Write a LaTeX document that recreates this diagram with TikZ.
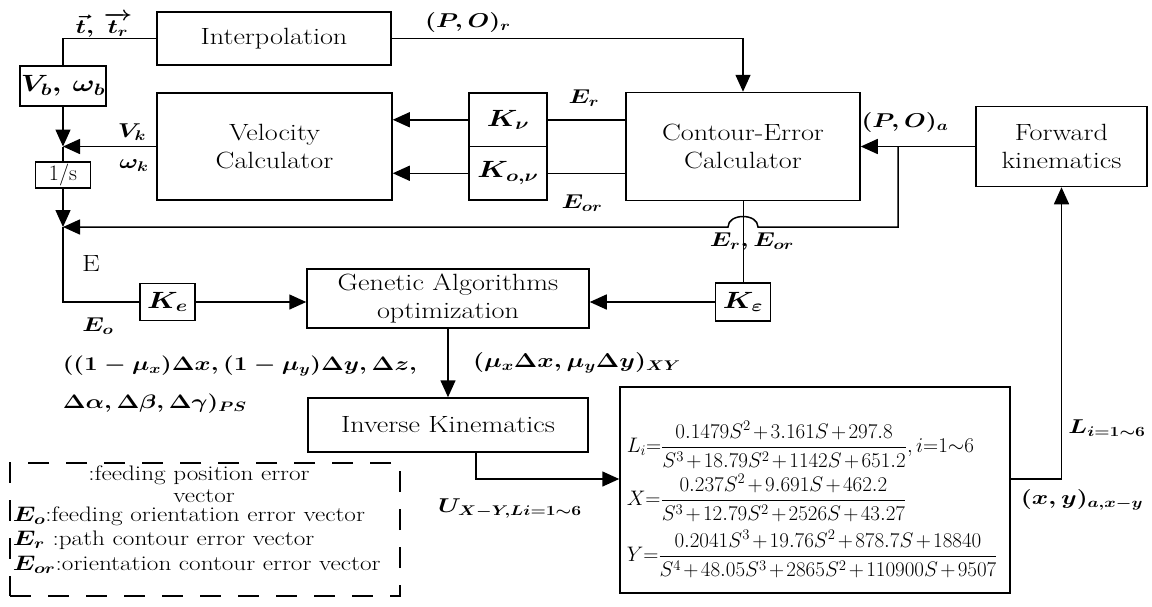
\RequirePackage{fix-cm}
\documentclass[tikz,border=0pt]{standalone}
\usepackage{fontspec}
\usepackage{amsmath}
\usepackage{bm}
\usetikzlibrary{arrows.meta}
\newcommand{\hstr}[1]{\scalebox{1.2}[1]{#1}}
\newcommand{\mlb}[1]{\scalebox{1.25}[1]{\boldmath$#1$}}
\begin{document}
\begin{tikzpicture}[x=1pt,y=-1pt,line width=1.5pt,
  box/.style={draw, inner sep=0pt, align=center, font=\fontsize{23.5}{28}\selectfont},
  lab/.style={inner sep=0pt, font=\fontsize{20}{24}\selectfont},
  legt/.style={inner sep=0pt, font=\fontsize{21}{25}\selectfont},
  eqf/.style={inner sep=0pt, anchor=west, font=\fontsize{21}{24}\selectfont},
  arr/.style={-{Triangle[length=17pt,width=15pt]}},
  thinline/.style={line width=1pt}]
\useasboundingbox (0,0) rectangle (1152,606);
% blocks
\node[box, minimum width=234pt, minimum height=53pt] (interp) at (274,38.5) {\hstr{Interpolation}};
\node[box, minimum width=86pt, minimum height=40pt] (vb) at (63,86) {\mlb{V_{b},\,\omega_{b}}};
\node[box, minimum width=235pt, minimum height=107pt] (vel) at (274.5,146.5) {\hstr{Velocity}\\\hstr{Calculator}};
\node[box, minimum width=78pt, minimum height=53.5pt] (kv) at (508,119.75) {\mlb{K_{\nu}}};
\node[box, minimum width=78pt, minimum height=53.5pt] (kov) at (508,173.25) {\mlb{K_{o,\nu}}};
\node[box, minimum width=234pt, minimum height=108pt] (ce) at (743,146.5) {\hstr{Contour-Error}\\\hstr{Calculator}};
\node[box, minimum width=171pt, minimum height=80pt] (fk) at (1061.5,146.5) {\hstr{Forward}\\\hstr{kinematics}};
\node[box, minimum width=55pt, minimum height=26pt, font=\fontsize{22}{24}\selectfont] (one) at (63,175) {1/s};
\node[box, minimum width=55pt, minimum height=37pt] (ke) at (167.5,302) {\mlb{K_{e}}};
\node[box, minimum width=55pt, minimum height=38pt] (keps) at (743,302) {\mlb{K_{\varepsilon}}};
\node[box, minimum width=282pt, minimum height=59pt] (ga) at (448,298.5) {\hstr{Genetic Algorithms}\\\hstr{optimization}};
\node[box, minimum width=280pt, minimum height=54pt] (ik) at (448,425) {\hstr{Inverse Kinematics}};
\node[box, minimum width=390pt, minimum height=206pt] (eq) at (815,490) {};
\node[draw, dash pattern=on 21pt off 17pt, minimum width=390pt, minimum height=133pt] (leg) at (205,529.5) {};
% equations
\node[eqf] (e1) at (626,445) {$\medmuskip=2mu L_i{=}\dfrac{0.1479S^2+3.161S+297.8}{S^3+18.79S^2+1142S+651.2},i{=}1{\sim}6$};
\node[eqf] (e2) at (626,498) {$\medmuskip=2mu X{=}\dfrac{0.237S^2+9.691S+462.2}{S^3+12.79S^2+2526S+43.27}$};
\node[eqf] (e3) at (626,554) {$\medmuskip=2mu Y{=}\dfrac{0.2041S^3+19.76S^2+878.7S+18840}{S^4+48.05S^3+2865S^2+110900S+9507}$};
% legend text
\node[legt] (g1) at (199,475) {\hstr{:feeding position error}};
\node[legt] (g2) at (204,496) {\hstr{vector}};
\node[legt, anchor=west] (g3) at (12,516) {\mlb{E_{o}}\hstr{:feeding orientation error vector}};
\node[legt, anchor=west] (g4) at (12,540) {\mlb{E_{r}}\hstr{ :path contour error vector}};
\node[legt, anchor=west] (g5) at (12,565) {\mlb{E_{or}}\hstr{:orientation contour error vector}};
% labels
\node[lab] (lt) at (104,25) {\mlb{\vec{t},\,\overrightarrow{t_{r}}}};
\node[lab] (lpor) at (468,22) {\mlb{(P,O)_{r}}};
\node[lab] (lvk) at (132,132) {\mlb{V_{k}}};
\node[lab] (lwk) at (134,166) {\mlb{\omega_{k}}};
\node[lab] (ler) at (584,98) {\mlb{E_{r}}};
\node[lab] (leor) at (582,203) {\mlb{E_{or}}};
\node[lab] (lpoa) at (905,122) {\mlb{(P,O)_{a}}};
\node[lab] (lre) at (752,242) {\mlb{E_{r},E_{or}}};
\node[box, draw=none] (lE) at (91,263) {\hstr{E}};
\node[lab] (leo) at (98,326) {\mlb{E_{o}}};
\node[lab, anchor=west, font=\fontsize{19.5}{24}\selectfont] (ld1) at (62,366) {\mlb{((1-\mu_{x})\Delta x,(1-\mu_{y})\Delta y,\Delta z,}};
\node[lab, anchor=west, font=\fontsize{19.5}{24}\selectfont] (ld2) at (62,404) {\mlb{\Delta\alpha,\Delta\beta,\Delta\gamma)_{PS}}};
\node[lab] (lmu) at (577,363) {\mlb{(\mu_{x}\Delta x,\mu_{y}\Delta y)_{XY}}};
\node[lab] (lu) at (510,508) {\mlb{U_{X-Y,Li=1\sim6}}};
\node[lab] (lli) at (1107,428) {\mlb{L_{i=1\sim6}}};
\node[lab] (lxy) at (1082,500) {\mlb{(x,y)_{a,x-y}}};
% junctions
\coordinate (j1) at (63,146.5);
\coordinate (j2) at (63,227);
\coordinate (jk) at (63,302);
\coordinate (jb) at (898,146.5);
\coordinate (fbr) at (898,227);
\coordinate (hr) at (758,227);
\coordinate (hl) at (728,227);
\coordinate (ikout) at (476,452);
% connectors
\draw (interp.west) -| (vb.north);
\draw[arr] (vb.south) -- (j1);
\draw[arr] (vel.west) -- (j1);
\draw (j1) -- (one.north);
\draw[arr] (one.south) -- (j2);
\draw (j2) -- (jk) -- (ke.west);
\draw[arr] (ke.east) -- (ke.east -| ga.west);
\draw[arr] (keps.west) -- (keps.west -| ga.east);
\draw[thinline] (ce.south) -- (keps.north);
\draw[arr] (interp.east) -| (ce.north);
\draw (kv.east) -- (kv.east -| ce.west);
\draw (kov.east) -- (kov.east -| ce.west);
\draw[arr] (kv.west) -- (kv.west -| vel.east);
\draw[arr] (kov.west) -- (kov.west -| vel.east);
\draw[arr] (fk.west) -- (ce.east);
\draw[arr] (jb) -- (fbr) -- (hr) .. controls (758,213) and (728,213) .. (hl) -- (j2);
\draw[arr] (ga.south) -- (ik.north);
\draw[arr] (ikout) |- ([yshift=11pt]eq.west);
\draw[arr] ([yshift=11pt]eq.east) -| (fk.south);
\end{tikzpicture}
\end{document}
